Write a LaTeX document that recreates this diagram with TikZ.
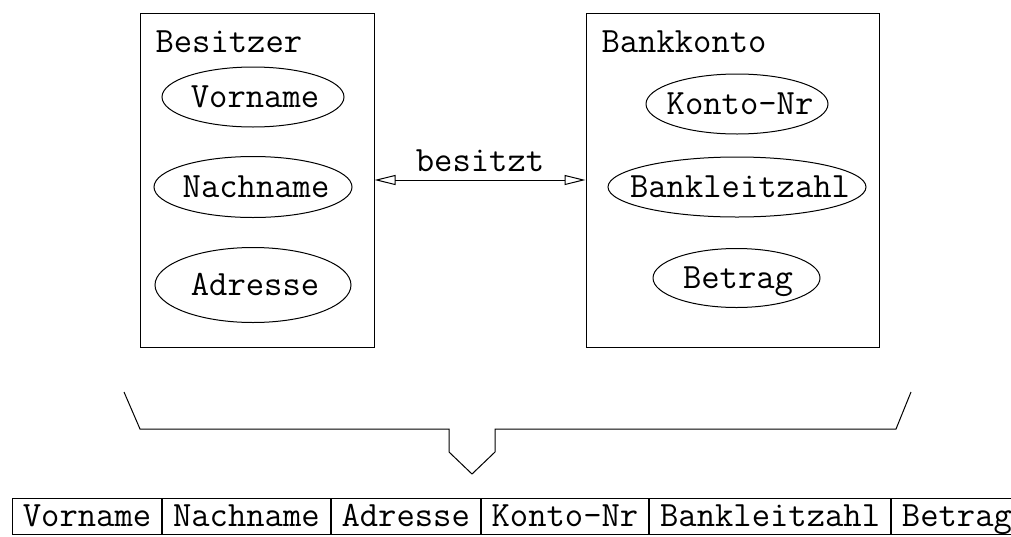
\documentclass[tikz,border=0pt]{standalone}
\usetikzlibrary{arrows.meta,positioning}

\tikzset{every picture/.style={line width=1pt}}
\tikzset{
  entity/.style={draw, minimum width=234pt, minimum height=334pt, inner sep=0pt},
  attr/.style={inner sep=0pt, text height=29pt, text depth=8pt},
  cell/.style={draw, inner xsep=10.4pt, inner ysep=0pt, minimum height=36pt, text height=27pt, text depth=6pt},
  openhead/.tip={Triangle[open,length=21pt,width=10pt]}
}

\begin{document}
\begin{tikzpicture}[x=1pt,y=1pt,yscale=-1,xscale=1,font=\ttfamily\fontsize{35.6pt}{40pt}\selectfont]
        \path[use as bounding box] (0,0) rectangle (1011,536);

        % Entities
        \node[entity] (besitzer) at (257,180) {};
        \node[entity, minimum width=293pt] (bankkonto) at (732.5,180) {};
        \node[anchor=base west, inner sep=0pt] (besitzerlabel) at (155,52) {Besitzer};
        \node[anchor=base west, inner sep=0pt] (bankkontolabel) at (601,52) {Bankkonto};

        % Attributes of Besitzer
        \node[attr] (vorname) at (255,97) {Vorname};
        \draw (253,97) ellipse [x radius=91pt, y radius=30pt];
        \node[attr] (nachname) at (256,187) {Nachname};
        \draw (253,187) ellipse [x radius=99pt, y radius=30.5pt];
        \node[attr] (adresse) at (255,285) {Adresse};
        \draw (253,285) ellipse [x radius=98pt, y radius=37.5pt];

        % Attributes of Bankkonto
        \node[attr] (kontonr) at (740,104) {Konto-Nr};
        \draw (737,104) ellipse [x radius=91pt, y radius=30pt];
        \node[attr] (blz) at (740,187) {Bankleitzahl};
        \draw (737,187) ellipse [x radius=129pt, y radius=30pt];
        \node[attr] (betrag) at (738,278) {Betrag};
        \draw (736.5,278) ellipse [x radius=83.5pt, y radius=29.5pt];

        % Relationship
        \draw[openhead-openhead] (besitzer.east) -- node[above=8pt, inner sep=0pt] (besitzt) {besitzt} (bankkonto.west);

        % Brace
        \draw (124,392) -- (140,429) -- (449,429) -- (449,452) -- (472,474) -- (495,452) -- (495,429) -- (896,429) -- (911,392);

        % Table
        \node[cell, anchor=west] (tvorname) at (12,516) {Vorname};
        \node[cell, right=0pt of tvorname] (tnachname) {Nachname};
        \node[cell, right=0pt of tnachname] (tadresse) {Adresse};
        \node[cell, right=0pt of tadresse] (tkontonr) {Konto-Nr};
        \node[cell, right=0pt of tkontonr] (tblz) {Bankleitzahl};
        \node[cell, right=0pt of tblz] (tbetrag) {Betrag};
\end{tikzpicture}
\end{document}
